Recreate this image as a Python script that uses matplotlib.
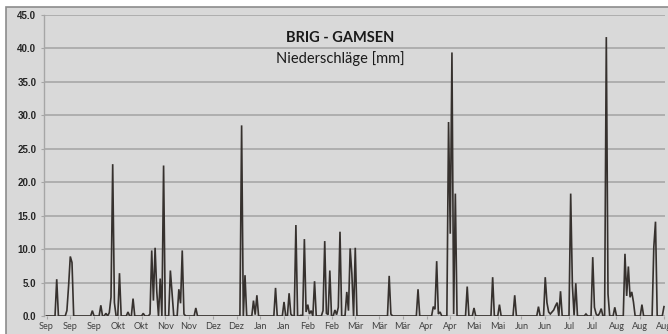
import matplotlib
matplotlib.use("Agg")
import matplotlib.pyplot as plt
from matplotlib.patches import Rectangle
import numpy as np

# Tagesniederschlag Brig-Gamsen, 1. Sep bis 31. Aug (Tage ohne Regen = 0)
rain_day = [6, 12, 13, 14, 15, 27, 32, 35, 37, 38, 39, 40, 43, 48, 51, 57,
            61, 62, 63, 64, 65, 67, 69, 73, 74, 78, 79, 80, 81, 88,
            115, 117, 122, 123, 124, 135, 140, 143, 144, 147, 150, 152, 153,
            154, 155, 156, 158, 163, 164, 165, 166, 167, 170, 171, 172, 173,
            176, 177, 178, 179, 180, 182, 202, 203, 219, 228, 229, 230, 231,
            232, 237, 238, 239, 240, 241, 248, 252, 263, 267, 276, 290, 294,
            295, 296, 297, 298, 299, 300, 301, 303, 309, 310, 311, 312, 318,
            322, 323, 324, 326, 327, 330, 331, 335, 341, 342, 343, 344, 345,
            346, 351, 358, 359, 364]
rain_mm = [5.5, 0.8, 4.5, 8.9, 8.0, 0.8, 1.6, 0.4, 0.5, 2.8, 22.7, 2.0, 6.4, 0.6, 2.6, 0.4,
           0.3, 9.8, 2.3, 10.2, 3.6, 5.6, 22.5, 6.8, 3.3, 4.0, 1.9, 9.8, 0.3, 1.2,
           28.5, 6.1, 2.3, 0.2, 3.1, 4.2, 2.1, 3.4, 0.3, 13.6, 0.1, 11.5, 0.6,
           1.7, 0.3, 0.8, 5.2, 0.8, 11.2, 0.4, 0.2, 6.8, 0.9, 0.2, 1.3, 12.6,
           0.1, 3.6, 0.8, 10.1, 6.3, 10.2, 6.0, 0.3, 4.0, 1.4, 1.0, 8.2, 0.3,
           0.6, 29.0, 12.3, 39.4, 0.3, 18.3, 4.4, 1.2, 5.8, 1.7, 3.1, 1.4, 5.8,
           2.0, 0.6, 0.3, 0.6, 0.9, 1.5, 2.0, 3.7, 18.3, 4.6, 0.1, 4.9, 0.3,
           8.8, 1.3, 0.3, 0.4, 1.1, 41.7, 3.3, 1.3, 9.3, 3.0, 7.4, 2.8, 3.6,
           2.1, 1.7, 10.3, 14.1, 1.4]
n_days = 365

# Achsenbeschriftung alle 14 Tage
month_labels = ["Sep", "Sep", "Sep", "Okt", "Okt", "Nov", "Nov", "Dez", "Dez",
                "Jan", "Jan", "Feb", "Feb", "Mär", "Mär", "Mär", "Apr", "Apr",
                "Mai", "Mai", "Jun", "Jun", "Jul", "Jul", "Aug", "Aug", "Aug"]
tick_step = 14

daily = np.zeros(n_days)
daily[rain_day] = rain_mm

bg = "#d9d9d9"
fig = plt.figure(figsize=(6.68, 3.34), dpi=100)
fig.patch.set_facecolor("white")
# grauer Diagrammbereich mit Rahmen
fig.patches.append(Rectangle((6 / 668, -0.05), 1.05, 1.05 - 7 / 334,
                             transform=fig.transFigure, facecolor=bg,
                             edgecolor="#8c8c8c", linewidth=1.2, zorder=-5))

ax = fig.add_axes([44 / 668, 1 - 316 / 334, (665 - 44) / 668, (316 - 15) / 334])
ax.set_facecolor(bg)
ax.plot(np.arange(n_days), daily, color="#36312e", lw=1.2, solid_joinstyle="miter")

ax.set_xlim(-1.5, 364.6)
ax.set_ylim(0, 45)
ax.set_yticks(np.arange(0, 46, 5))
ax.set_yticklabels([f"{v:.1f}" for v in np.arange(0, 46, 5)],
                   fontfamily="Liberation Sans", fontweight="bold", fontsize=7,
                   color="#262626")
ax.set_xticks(np.arange(len(month_labels)) * tick_step)
ax.set_xticklabels(month_labels, fontfamily="Lato", fontsize=6.6, color="#404040")

ax.grid(axis="y", color="#a3a3a3", lw=1.1)
ax.set_axisbelow(True)
for side in ["top", "right", "bottom"]:
    ax.spines[side].set_visible(False)
ax.spines["left"].set_color("#a6a6a6")
ax.spines["left"].set_linewidth(1.0)
ax.tick_params(axis="y", length=2.5, width=0.8, color="#a6a6a6", pad=3)
ax.tick_params(axis="x", length=2.5, width=0.8, color="#a6a6a6", pad=2)

ax.text(0.477, 0.922, "BRIG - GAMSEN", transform=ax.transAxes, ha="center",
        va="center", fontfamily="Lato", fontweight="bold", fontsize=10.5, color="#1a1a1a")
ax.text(0.477, 0.856, "Niederschläge [mm]", transform=ax.transAxes, ha="center",
        va="center", fontfamily="Lato", fontsize=10.5, color="#1a1a1a")

fig.savefig("out.png", dpi=100, facecolor=fig.get_facecolor())
